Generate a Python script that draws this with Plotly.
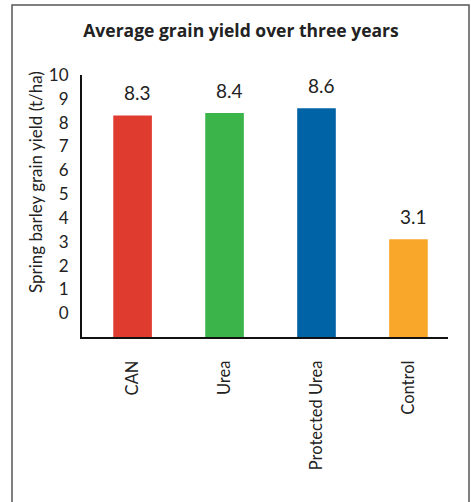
import plotly.graph_objects as go

categories = ["CAN", "Urea", "Protected Urea", "Control"]
yields = [8.3, 8.4, 8.6, 3.1]
value_labels = ["8.3", "8.4", "8.6", "3.1"]
colors = ["#E03B2F", "#3BB54A", "#0063A6", "#F9A72B"]
tick_values = list(range(0, 11))
tick_labels = [str(v) for v in tick_values]

Y_FLOOR = -1.0
FONT = "Lato, 'Open Sans', sans-serif"
TITLE_FONT = "'Open Sans', Lato, sans-serif"

W, H = 471, 502
L, R, T, B = 82, 23, 75, 165
pw, ph = W - L - R, H - T - B

def px_to_paper_x(px):
    return (px - L) / pw

def px_to_paper_y(py):
    return (H - B - py) / ph

fig = go.Figure()
fig.add_trace(go.Bar(
    x=list(range(len(categories))),
    y=[v - Y_FLOOR for v in yields],
    base=Y_FLOOR,
    marker=dict(color=colors, line=dict(width=0)),
    width=0.42,
    hoverinfo="skip",
))

for i, (v, lab) in enumerate(zip(yields, value_labels)):
    fig.add_annotation(x=i + 0.05, y=v, text=lab, showarrow=False,
                       yanchor="bottom", yshift=9,
                       font=dict(family=FONT, size=19, color="#222"))

fig.add_annotation(xref="paper", yref="paper", x=px_to_paper_x(35), y=px_to_paper_y(182),
                   xanchor="center", yanchor="middle",
                   text="Spring barley grain yield (t/ha)", textangle=-90, showarrow=False,
                   font=dict(family=FONT, size=17, color="#222"))

fig.add_shape(type="rect", xref="paper", yref="paper",
              x0=px_to_paper_x(12), x1=px_to_paper_x(469),
              y0=px_to_paper_y(510), y1=px_to_paper_y(5),
              line=dict(color="#555", width=1.5), layer="below")

fig.update_layout(
    width=W, height=H,
    margin=dict(l=L, r=R, t=T, b=B),
    paper_bgcolor="white", plot_bgcolor="white",
    showlegend=False,
    title=dict(text="<b>Average grain yield over three years</b>",
               x=241 / W, xanchor="center", y=1 - 31 / H, yanchor="middle",
               font=dict(family=TITLE_FONT, size=17.5, color="#222")),
    xaxis=dict(range=[-0.55, 3.43], tickmode="array",
               tickvals=list(range(len(categories))), ticktext=categories,
               tickangle=-90, showline=True, linecolor="#111", linewidth=2,
               showgrid=False, zeroline=False, ticks="",
               ticklabelstandoff=15,
               tickfont=dict(family=FONT, size=16.5, color="#222")),
    yaxis=dict(range=[Y_FLOOR, 10.0], tickmode="array",
               tickvals=tick_values, ticktext=tick_labels,
               showline=True, linecolor="#111", linewidth=2,
               showgrid=False, zeroline=False, ticks="",
               ticklabelstandoff=8,
               tickfont=dict(family=FONT, size=17, color="#222")),
)

fig.write_html("out.html")
